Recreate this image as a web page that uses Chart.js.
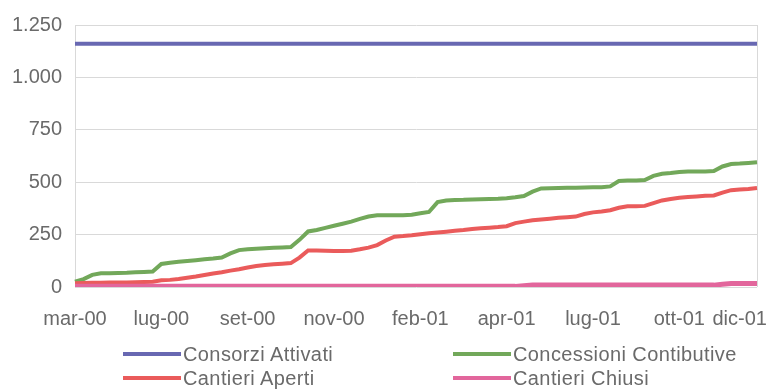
<!DOCTYPE html>
<html>
<head>
<meta charset="utf-8">
<script src="https://cdn.jsdelivr.net/npm/chart.js@4/dist/chart.umd.min.js"></script>
<style>
  html, body { margin: 0; padding: 0; background: #ffffff; }
  #wrap { position: relative; width: 777px; height: 390px; font-family: 'Liberation Sans', Arial, sans-serif; }
  #c { position: absolute; left: 0; top: 0; }
  .lg { position: absolute; display: flex; align-items: center; font-size: 20px; letter-spacing: 0.4px; color: #6a6a6a; white-space: nowrap; line-height: 22px; }
  .lg .sw { width: 58px; height: 4px; margin-right: 2px; }
</style>
</head>
<body>
<div id="wrap">
  <canvas id="c" width="777" height="390"></canvas>
  <div id="legend"></div>
</div>
<script>
const seriesNames = ['Consorzi Attivati', 'Concessioni Contibutive', 'Cantieri Aperti', 'Cantieri Chiusi'];
const seriesColors = ['#6868b2', '#72a85a', '#ea5b5b', '#e2669c'];

const tickLabels = ['mar-00','lug-00','set-00','nov-00','feb-01','apr-01','lug-01','ott-01','dic-01'];
const tickIndex = [0, 10, 20, 30, 40, 50, 60, 70, 77];

const consorziAttivati = [
  1160,1160,1160,1160,1160,1160,1160,1160,1160,1160,
  1160,1160,1160,1160,1160,1160,1160,1160,1160,1160,
  1160,1160,1160,1160,1160,1160,1160,1160,1160,1160,
  1160,1160,1160,1160,1160,1160,1160,1160,1160,1160,
  1160,1160,1160,1160,1160,1160,1160,1160,1160,1160,
  1160,1160,1160,1160,1160,1160,1160,1160,1160,1160,
  1160,1160,1160,1160,1160,1160,1160,1160,1160,1160,
  1160,1160,1160,1160,1160,1160,1160,1160,1160,1160
];
const concessioniContibutive = [
  25,38,58,66,66,67,68,70,72,74,
  110,116,120,124,128,132,136,141,160,176,
  180,183,185,187,189,191,225,265,272,282,
  292,302,312,325,336,342,342,342,342,345,
  352,358,405,413,415,416,418,419,420,421,
  423,428,434,455,470,471,472,473,474,475,
  476,476,480,506,508,508,510,530,540,544,
  549,551,551,551,553,575,587,589,592,595
];
const cantieriAperti = [
  18,19,20,20,21,22,22,23,24,25,
  32,34,38,44,50,57,64,70,78,85,
  93,100,105,108,111,114,140,174,174,173,
  172,172,173,180,188,200,222,240,243,247,
  252,256,260,264,268,272,277,280,283,286,
  290,305,312,318,322,326,330,333,336,348,
  356,360,366,378,385,385,387,400,413,420,
  426,429,432,435,437,450,462,465,468,472
];
const cantieriChiusi = [
  3,3,3,3,3,3,3,3,3,3,
  3,3,3,3,3,3,3,3,3,3,
  3,3,3,3,3,3,3,3,3,3,
  3,3,3,3,3,3,3,3,3,3,
  3,3,3,3,3,3,3,3,3,3,
  3,3,6,9,9,9,9,9,9,9,
  9,9,9,9,9,9,9,9,9,9,
  9,9,9,9,9,13,17,17,17,17
];

const categories = consorziAttivati.map((_, i) => {
  const k = tickIndex.indexOf(i);
  return k >= 0 ? tickLabels[k] : '';
});

const seriesData = [consorziAttivati, concessioniContibutive, cantieriAperti, cantieriChiusi];
const drawOrder = [3, 2, 1, 0];

const gridColor = '#d9d9d9';
const textColor = '#6a6a6a';
const fontFamily = "'Liberation Sans', Arial, sans-serif";

function itFormat(v) {
  return String(v).replace(/\B(?=(\d{3})+(?!\d))/g, '.');
}

const rightFrame = {
  id: 'rightFrame',
  beforeDatasetsDraw(chart) {
    const { ctx, chartArea } = chart;
    ctx.save();
    ctx.strokeStyle = gridColor;
    ctx.lineWidth = 1;
    ctx.beginPath();
    ctx.moveTo(Math.round(chartArea.right) + 0.5, chartArea.top);
    ctx.lineTo(Math.round(chartArea.right) + 0.5, chartArea.bottom);
    ctx.stroke();
    ctx.restore();
  }
};

const chart = new Chart(document.getElementById('c'), {
  type: 'line',
  data: {
    labels: categories,
    datasets: seriesNames.map((name, i) => ({
      label: name,
      data: seriesData[i],
      borderColor: seriesColors[i],
      backgroundColor: seriesColors[i],
      borderWidth: i === 3 ? 5 : 4,
      pointRadius: 0,
      tension: 0,
      fill: false,
      order: drawOrder[i]
    }))
  },
  options: {
    responsive: false,
    animation: false,
    layout: { padding: { left: 0, right: 17, top: 24, bottom: 0 } },
    plugins: {
      legend: { display: false },
      tooltip: { enabled: false }
    },
    scales: {
      x: {
        type: 'category',
        grid: { display: false, drawTicks: false },
        border: { display: false },
        ticks: {
          autoSkip: false,
          maxRotation: 0,
          minRotation: 0,
          padding: 20,
          color: textColor,
          font: { family: fontFamily, size: 20 }
        },
        afterFit(scale) { scale.height = 103; }
      },
      y: {
        min: 0,
        max: 1250,
        grid: { color: gridColor, drawTicks: false, lineWidth: 1 },
        border: { display: true, color: gridColor },
        ticks: {
          stepSize: 250,
          padding: 13,
          color: textColor,
          font: { family: fontFamily, size: 20 },
          callback: (v) => itFormat(v)
        },
        afterFit(scale) { scale.width = 75; }
      }
    }
  },
  plugins: [rightFrame]
});

// HTML legend built from the chart's datasets
const legendPos = [
  { left: 123, top: 343 },
  { left: 453, top: 343 },
  { left: 123, top: 367 },
  { left: 453, top: 367 }
];
const legendEl = document.getElementById('legend');
const legendOrder = [0, 1, 2, 3];
legendOrder.forEach((i, k) => {
  const ds = chart.data.datasets[i];
  const item = document.createElement('div');
  item.className = 'lg';
  item.style.left = legendPos[k].left + 'px';
  item.style.top = legendPos[k].top + 'px';
  const sw = document.createElement('span');
  sw.className = 'sw';
  sw.style.background = ds.borderColor;
  const tx = document.createElement('span');
  tx.textContent = ds.label;
  item.appendChild(sw);
  item.appendChild(tx);
  legendEl.appendChild(item);
});
</script>
</body>
</html>
